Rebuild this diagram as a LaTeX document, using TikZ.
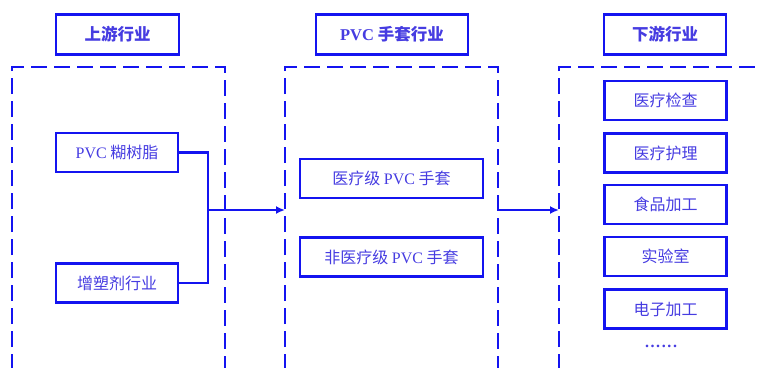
\documentclass[tikz,border=0pt]{standalone}
\usepackage{fontspec}
\newfontfamily\cjk{Noto Sans CJK SC}
\newfontfamily\lat{Liberation Serif}
\usetikzlibrary{arrows.meta}
\definecolor{lineblue}{RGB}{20,20,240}
\definecolor{textblue}{RGB}{70,60,225}
\begin{document}
\begin{tikzpicture}[x=1pt,y=-1pt,
  box/.style={draw=lineblue,line width=2.2pt,minimum width=122pt,minimum height=39pt,inner sep=0pt,text=textblue,font=\cjk\fontsize{16}{18}\selectfont},
  hdr/.style={box,font=\cjk\bfseries\fontsize{16.5}{18}\selectfont},
  dbox/.style={draw=lineblue,line width=2.4pt,dash pattern=on 16pt off 7pt},
  conn/.style={draw=lineblue,line width=2.2pt},
  arr/.style={conn,-{Latex[length=9pt,width=8pt]}}]
\useasboundingbox (0,0) rectangle (760,367);
\clip (0,0) rectangle (760,367);
% headers
\node[hdr,minimum width=123pt,minimum height=40pt] (h1) at (117.5,34.5) {上游行业};
\node[hdr,minimum width=152pt,minimum height=40pt] (h2) at (392,34.5) {{\lat\bfseries PVC} 手套行业};
\node[hdr,minimum width=122pt,minimum height=40pt] (h3) at (665,34.5) {下游行业};
% dashed frames
\draw[dbox] (12,370) -- (12,67) -- (225,67) -- (225,370);
\draw[dbox] (285,370) -- (285,67) -- (498,67) -- (498,370);
\draw[dbox] (559,370) -- (559,67) -- (770,67);
% left boxes
\node[box] (pvc) at (117,152.5) {{\lat PVC} 糊树脂};
\node[box] (zsj) at (117,283) {增塑剂行业};
% middle boxes
\node[box,minimum width=183pt] (yl) at (391.5,178.5) {医疗级 {\lat PVC} 手套};
\node[box,minimum width=183pt] (fyl) at (391.5,257) {非医疗级 {\lat PVC} 手套};
% right boxes
\node[box] (r1) at (665.5,100.5) {医疗检查};
\node[box] (r2) at (665.5,153) {医疗护理};
\node[box] (r3) at (665.5,204.5) {食品加工};
\node[box] (r4) at (665.5,256.5) {实验室};
\node[box] (r5) at (665.5,309) {电子加工};
\node[text=textblue,font=\lat\bfseries\fontsize{16}{18}\selectfont,inner sep=0pt] (dots) at (661,346) {.\kern1.6pt.\kern1.6pt.\kern1.6pt.\kern1.6pt.\kern1.6pt.};
% connectors
\coordinate (j) at (208,210);
\coordinate (m1) at (285,210);
\coordinate (m2) at (498,210);
\coordinate (r0) at (559,210);
\draw[conn] (pvc.east) -- (pvc.east -| j) -- (zsj.east -| j) -- (zsj.east);
\draw[arr] (j) -- (m1);
\draw[arr] (m2) -- (r0);
\end{tikzpicture}
\end{document}
